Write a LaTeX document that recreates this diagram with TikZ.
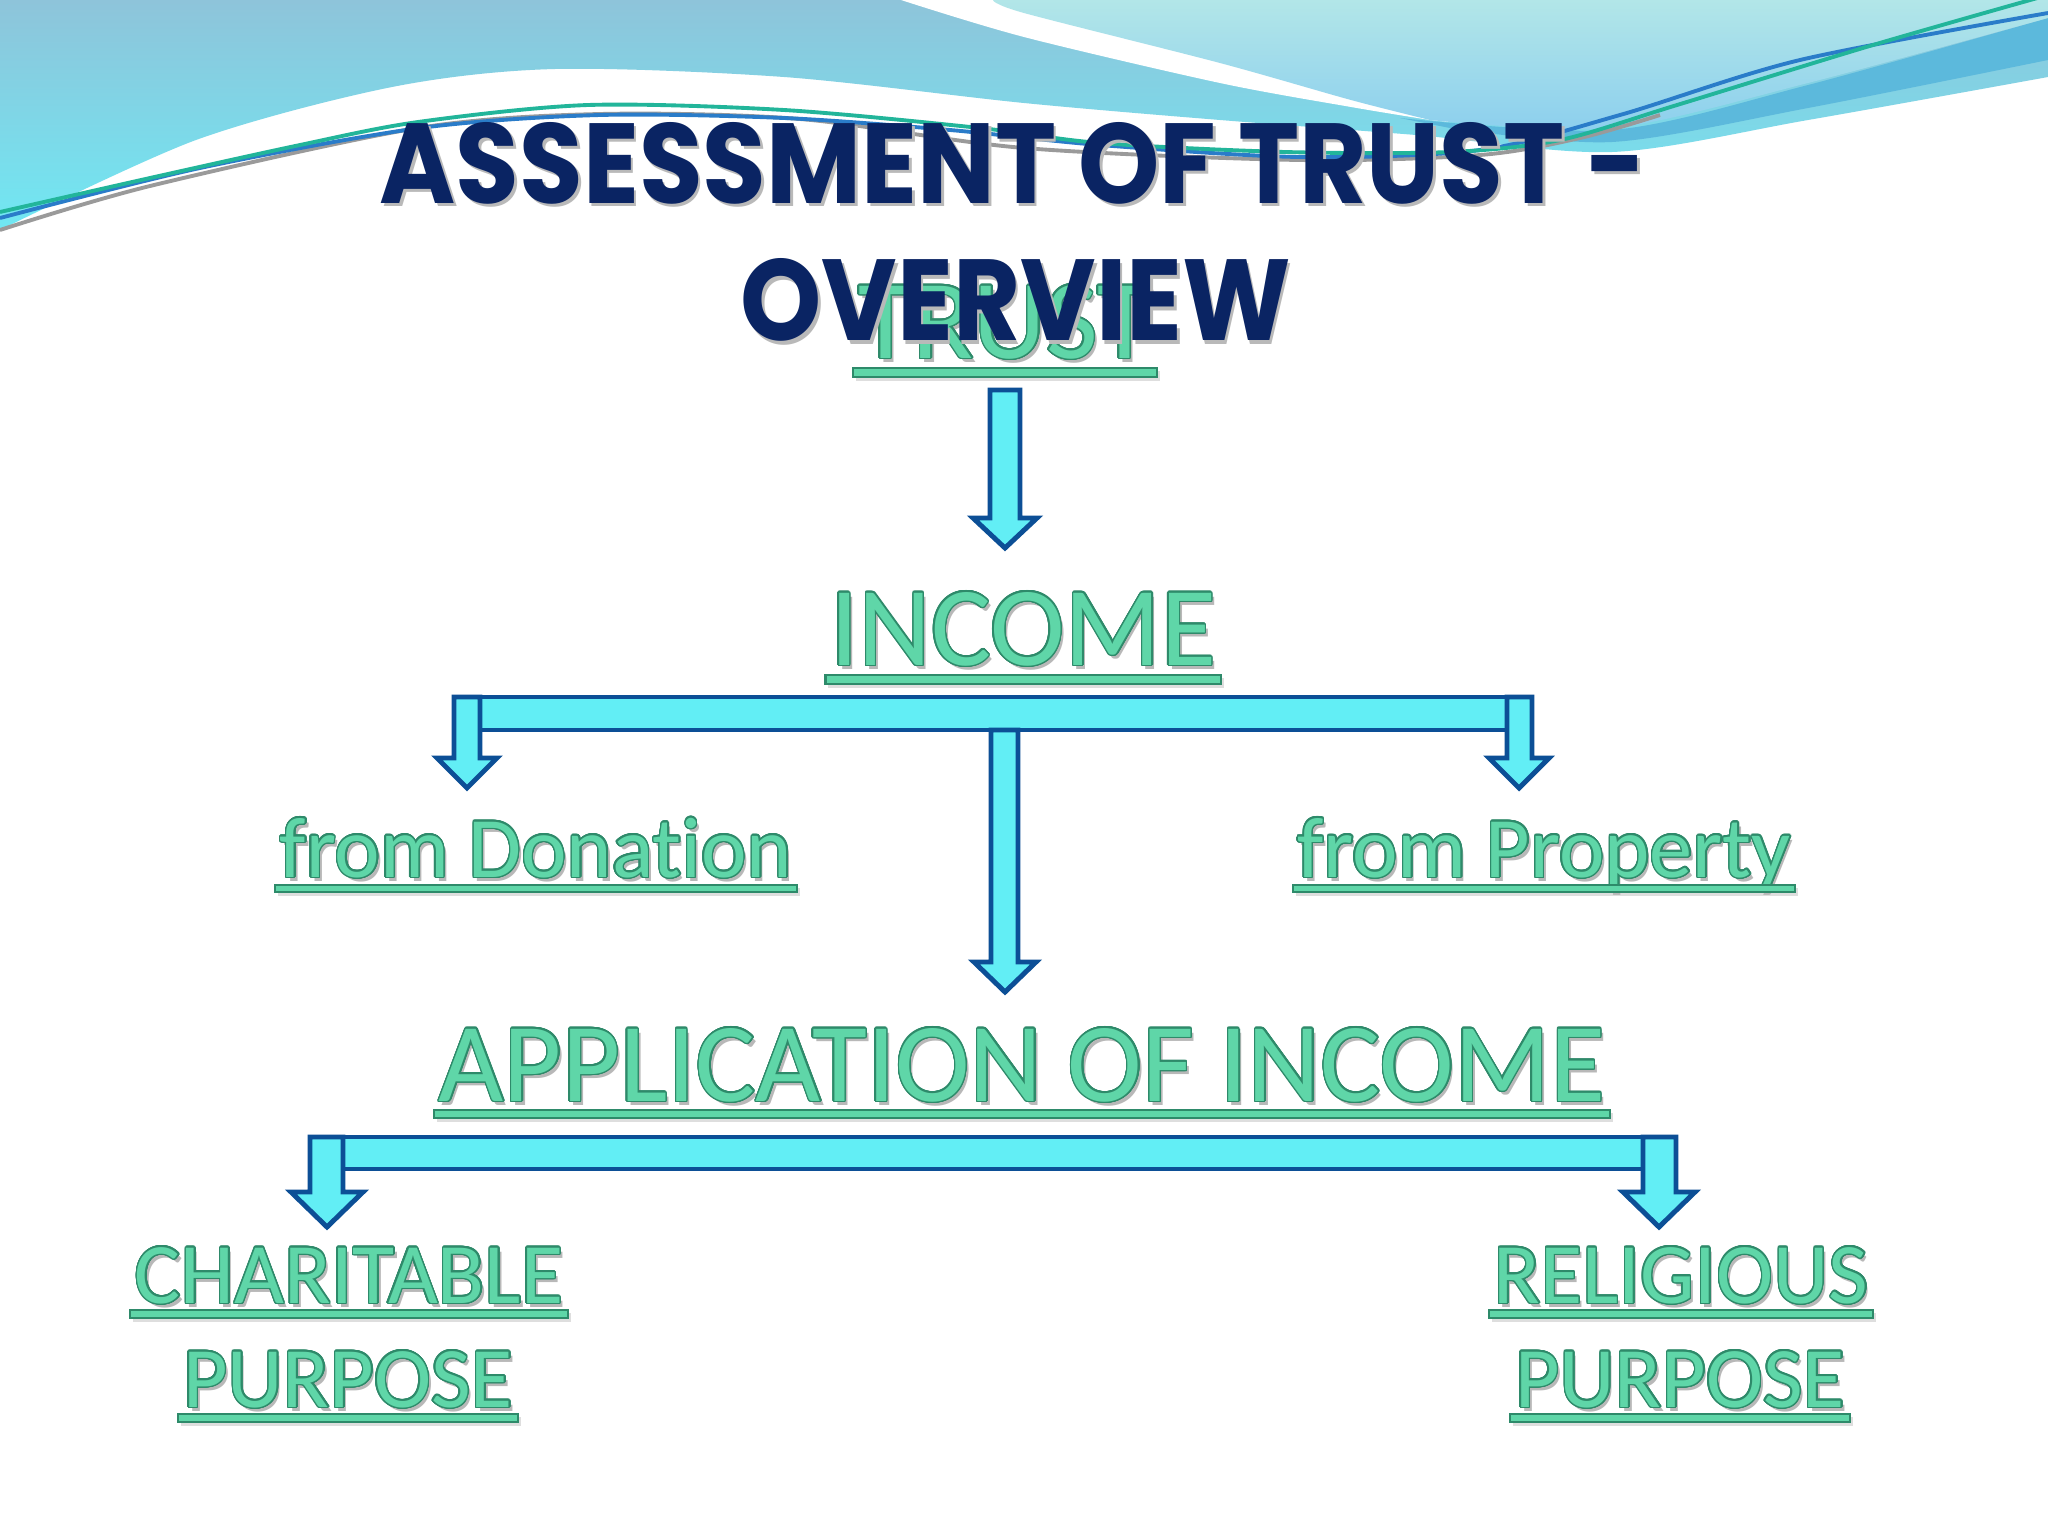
\documentclass[tikz,border=0pt]{standalone}
\usepackage{fontspec}
\setmainfont{Carlito}[Ligatures=NoCommon]
\newfontfamily\titlefont{Poppins}
\usepackage[copies]{contour}
\usetikzlibrary{calc}
\definecolor{mint}{HTML}{5FD6A8}
\definecolor{mintdark}{HTML}{2E8A6A}
\definecolor{shadowgray}{HTML}{B8B8B8}
\definecolor{navy}{HTML}{0A2463}
\definecolor{arrowfill}{HTML}{62EEF5}
\definecolor{arrowline}{HTML}{0C4F96}
\definecolor{bgtop}{HTML}{8EC4DA}
\definecolor{bgbot}{HTML}{70E8F3}
\definecolor{ctop}{HTML}{B2E6E8}
\definecolor{cbot}{HTML}{8CCFEE}
\definecolor{bandblue}{HTML}{5CB9DC}
\definecolor{lineteal}{HTML}{22B59A}
\definecolor{lineblue}{HTML}{2A7CC9}
\definecolor{linegray}{HTML}{9A9A9A}
\contourlength{0.4pt}
\contournumber{24}
\newcommand{\fxtext}[1]{\leavevmode\rlap{\hspace{0.9pt}\raisebox{-1.2pt}{\textcolor{shadowgray}{#1}}}{\color{mint}\contour{mintdark}{#1}}}
\newcommand{\titletext}[1]{\leavevmode\rlap{\hspace{0.25pt}\raisebox{-0.35pt}{\textcolor{gray!55}{#1}}}\textcolor{navy}{#1}}
\newcommand{\ulinebar}[3]{%
  \fill[ushadow] ($(#1.base west)+(-1,#2+3)$) rectangle ($(#1.base east)+(7,#3+4)$);
  \draw[uline] ($(#1.base west)+(-4,#2)$) rectangle ($(#1.base east)+(4,#3)$);}
\tikzset{
  bigtxt/.style={inner sep=0pt, anchor=base, font=\fontsize{32}{38}\selectfont},
  smalltxt/.style={inner sep=0pt, anchor=base, font=\fontsize{24.5}{29}\selectfont},
  uline/.style={fill=mint, draw=mintdark, line width=0.6pt},
  ushadow/.style={fill=shadowgray, opacity=0.45},
  blockarrow/.style={fill=arrowfill, draw=arrowline, line width=1.4pt, line join=miter},
  thinline/.style={line width=1.1pt},
}
\begin{document}
\begin{tikzpicture}[x=0.01cm,y=-0.01cm]
\useasboundingbox (0,0) rectangle (2048,1536);
\fill[white] (0,0) rectangle (2048,1536);
% ---- background waves ----
\shade[top color=bgtop, bottom color=bgbot] (0,0) -- (2048,0) --
  plot[smooth] coordinates {(2048,77) (1808,120) (1612,152) (1416,135) (1220,120) (1024,103) (784,77) (555,69) (392,87) (196,140) (0,230)} -- cycle;
\fill[bandblue] plot[smooth] coordinates {(1400,118) (1612,130) (1808,85) (2048,18)} -- (2048,60) --
  plot[smooth] coordinates {(2048,60) (1808,108) (1612,142) (1450,128)} -- cycle;
\fill[white] (901,0) -- (1010,0) -- (1450,122) --
  plot[smooth] coordinates {(1430,120) (1351,107) (1220,83) (1024,37) (901,0)} -- cycle;
\shade[top color=ctop, bottom color=cbot] (993,0) -- (2048,0) --
  plot[smooth] coordinates {(2048,18) (1808,83) (1612,128) (1430,120)} --
  plot[smooth] coordinates {(1430,120) (1351,100) (1220,63) (1024,13) (993,0)} -- cycle;
% ---- thin lines ----
\draw[thinline, linegray] plot[smooth] coordinates {(0,230) (150,186) (418,128) (600,114) (800,119) (1024,148) (1300,160) (1480,155) (1580,138) (1660,115)};
\draw[thinline, lineblue] plot[smooth] coordinates {(0,218) (200,168) (420,128) (600,115) (784,118) (950,130) (1100,145) (1300,157) (1480,150) (1620,115) (1800,60) (2048,13)};
\draw[thinline, lineteal] plot[smooth] coordinates {(0,212) (150,178) (300,145) (418,122) (588,105) (784,110) (980,128) (1100,143) (1285,152) (1450,152) (1560,140) (1677,105) (1873,45) (2048,-5)};
% ---- TRUST ----
\node[bigtxt] (trust) at (1005,358) {\fxtext{TRUST}};
\ulinebar{trust}{10}{19}
% ---- arrows ----
\draw[blockarrow] (990,390) -- (1020,390) -- (1020,518) -- (1037,518) -- (1005,548) -- (973,518) -- (990,518) -- cycle;
\draw[blockarrow] (467,697) rectangle (1519,730);
\draw[blockarrow] (454,697) -- (480,697) -- (480,758) -- (497,758) -- (467,788) -- (437,758) -- (454,758) -- cycle;
\draw[blockarrow] (1507,697) -- (1532,697) -- (1532,758) -- (1549,758) -- (1519,788) -- (1489,758) -- (1507,758) -- cycle;
\draw[blockarrow] (991,730) -- (1018,730) -- (1018,962) -- (1036,962) -- (1005,992) -- (974,962) -- (991,962) -- cycle;
\draw[blockarrow] (327,1137) rectangle (1659,1169);
\draw[blockarrow] (310,1137) -- (343,1137) -- (343,1192) -- (363,1192) -- (327,1227) -- (291,1192) -- (310,1192) -- cycle;
\draw[blockarrow] (1643,1137) -- (1676,1137) -- (1676,1192) -- (1695,1192) -- (1659,1227) -- (1623,1192) -- (1643,1192) -- cycle;
% ---- texts ----
\node[bigtxt] (income) at (1023,665) {\fxtext{INCOME}};
\ulinebar{income}{10}{19}
\node[smalltxt] (donation) at (536,877) {\fxtext{from Donation}};
\ulinebar{donation}{8}{15}
\node[smalltxt] (property) at (1544,877) {\fxtext{from Property}};
\ulinebar{property}{8}{15}
\node[bigtxt] (application) at (1022,1101) {\fxtext{APPLICATION OF INCOME}};
\ulinebar{application}{9}{17}
\node[smalltxt] (charitable) at (349,1303) {\fxtext{CHARITABLE}};
\ulinebar{charitable}{7}{15}
\node[smalltxt] (charpurpose) at (348,1407) {\fxtext{PURPOSE}};
\ulinebar{charpurpose}{7}{15}
\node[smalltxt] (religious) at (1681,1303) {\fxtext{RELIGIOUS}};
\ulinebar{religious}{7}{15}
\node[smalltxt] (relpurpose) at (1680,1407) {\fxtext{PURPOSE}};
\ulinebar{relpurpose}{7}{15}
% ---- title ----
\node[inner sep=0pt, anchor=base west] (title1) at (379,203) {\resizebox{12.66cm}{0.81cm}{\titlefont\bfseries\titletext{ASSESSMENT OF TRUST -}}};
\node[inner sep=0pt, anchor=base west] (title2) at (740,340) {\resizebox{5.5cm}{0.82cm}{\titlefont\bfseries\titletext{OVERVIEW}}};
\end{tikzpicture}
\end{document}
